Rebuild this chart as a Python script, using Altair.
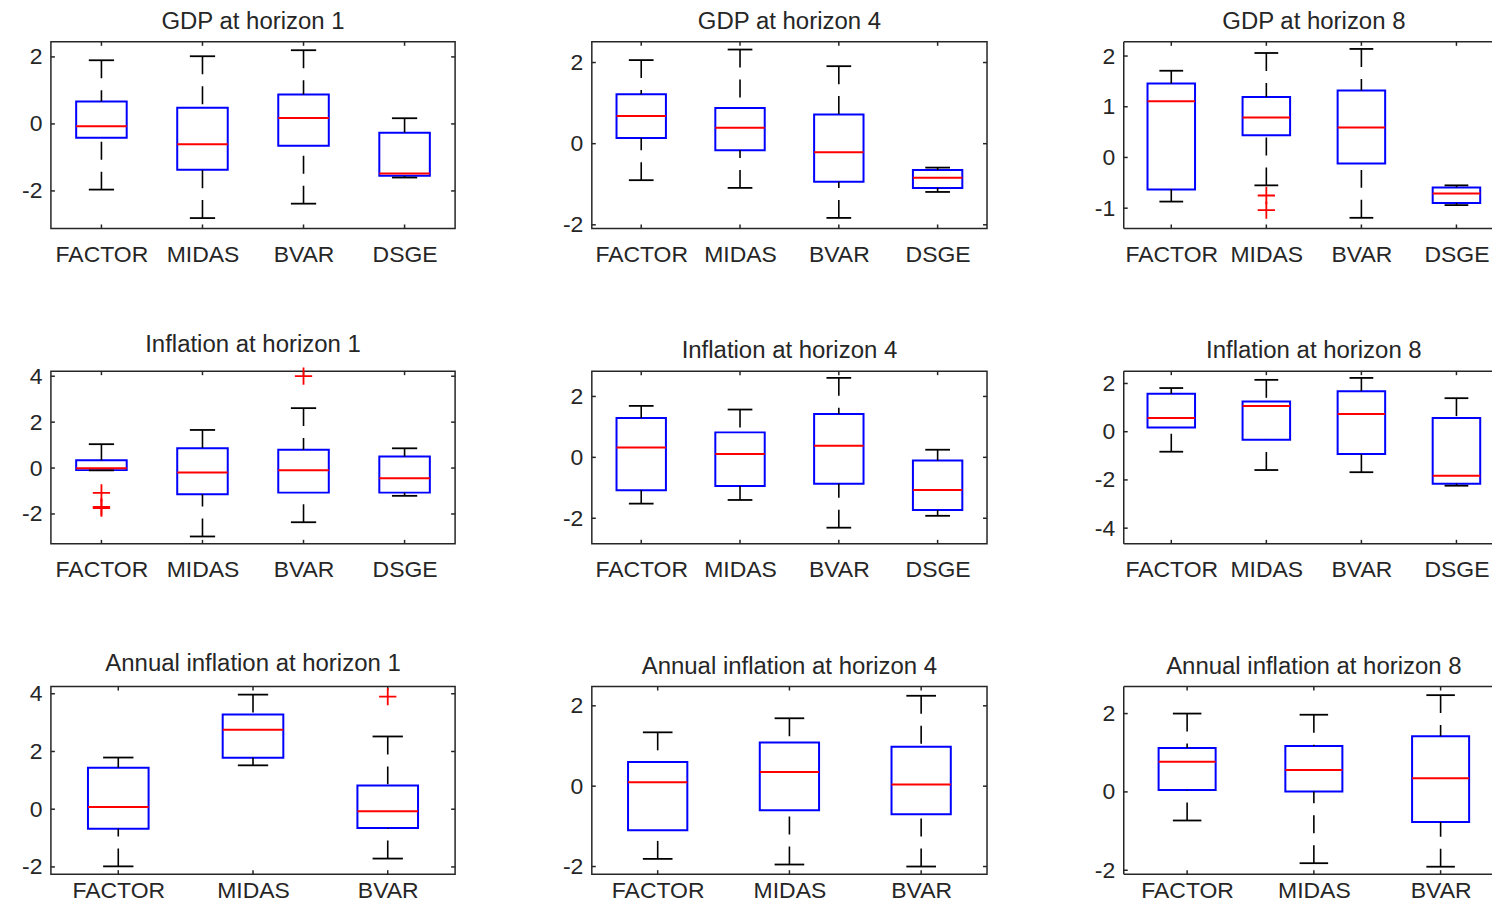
import json
import altair as alt
import pandas as pd

FONT = "Liberation Sans"
TEXT = "#262626"

MODELS_4 = ["FACTOR", "MIDAS", "BVAR", "DSGE"]
MODELS_3 = ["FACTOR", "MIDAS", "BVAR"]

# GDP at horizon 1
gdp_h1_low = [-1.96, -2.81, -2.38, -1.60]
gdp_h1_q1 = [-0.41, -1.37, -0.65, -1.55]
gdp_h1_med = [-0.07, -0.61, 0.18, -1.48]
gdp_h1_q3 = [0.67, 0.48, 0.88, -0.26]
gdp_h1_high = [1.90, 2.02, 2.20, 0.17]
gdp_h1_out_model = []
gdp_h1_out_value = []

# GDP at horizon 4
gdp_h4_low = [-0.90, -1.09, -1.83, -1.19]
gdp_h4_q1 = [0.14, -0.16, -0.94, -1.09]
gdp_h4_med = [0.68, 0.39, -0.21, -0.84]
gdp_h4_q3 = [1.22, 0.88, 0.72, -0.65]
gdp_h4_high = [2.06, 2.32, 1.91, -0.59]
gdp_h4_out_model = []
gdp_h4_out_value = []

# GDP at horizon 8
gdp_h8_low = [-0.87, -0.55, -1.19, -0.94]
gdp_h8_q1 = [-0.63, 0.44, -0.12, -0.90]
gdp_h8_med = [1.11, 0.79, 0.59, -0.71]
gdp_h8_q3 = [1.46, 1.19, 1.32, -0.59]
gdp_h8_high = [1.71, 2.06, 2.14, -0.55]
gdp_h8_out_model = ["MIDAS", "MIDAS"]
gdp_h8_out_value = [-0.75, -1.04]

# Inflation at horizon 1
inf_h1_low = [-0.10, -2.98, -2.36, -1.21]
inf_h1_q1 = [-0.09, -1.14, -1.07, -1.07]
inf_h1_med = [-0.01, -0.19, -0.10, -0.44]
inf_h1_q3 = [0.34, 0.86, 0.80, 0.50]
inf_h1_high = [1.04, 1.66, 2.61, 0.86]
inf_h1_out_model = ["FACTOR", "FACTOR", "FACTOR", "BVAR"]
inf_h1_out_value = [-1.08, -1.69, -1.74, 4.00]

# Inflation at horizon 4
inf_h4_low = [-1.52, -1.40, -2.31, -1.92]
inf_h4_q1 = [-1.08, -0.94, -0.87, -1.73]
inf_h4_med = [0.32, 0.11, 0.38, -1.07]
inf_h4_q3 = [1.29, 0.82, 1.42, -0.10]
inf_h4_high = [1.69, 1.57, 2.61, 0.25]
inf_h4_out_model = []
inf_h4_out_value = []

# Inflation at horizon 8
inf_h8_low = [-0.83, -1.59, -1.68, -2.24]
inf_h8_q1 = [0.17, -0.33, -0.93, -2.16]
inf_h8_med = [0.57, 1.07, 0.73, -1.83]
inf_h8_q3 = [1.57, 1.25, 1.68, 0.57]
inf_h8_high = [1.81, 2.15, 2.23, 1.39]
inf_h8_out_model = []
inf_h8_out_value = []

# Annual inflation at horizon 1
ann_h1_low = [-1.98, 1.52, -1.71]
ann_h1_q1 = [-0.68, 1.78, -0.65]
ann_h1_med = [0.08, 2.75, -0.07]
ann_h1_q3 = [1.44, 3.28, 0.82]
ann_h1_high = [1.79, 3.97, 2.52]
ann_h1_out_model = ["BVAR"]
ann_h1_out_value = [3.90]

# Annual inflation at horizon 4
ann_h4_low = [-1.81, -1.95, -2.00]
ann_h4_q1 = [-1.10, -0.60, -0.70]
ann_h4_med = [0.10, 0.35, 0.04]
ann_h4_q3 = [0.60, 1.09, 0.98]
ann_h4_high = [1.34, 1.69, 2.25]
ann_h4_out_model = []
ann_h4_out_value = []

# Annual inflation at horizon 8
ann_h8_low = [-0.73, -1.82, -1.91]
ann_h8_q1 = [0.05, 0.01, -0.77]
ann_h8_med = [0.77, 0.56, 0.35]
ann_h8_q3 = [1.12, 1.17, 1.42]
ann_h8_high = [2.00, 1.97, 2.47]
ann_h8_out_model = []
ann_h8_out_value = []

# axis limits and ticks
gdp_h1_ylim, gdp_h1_yticks = [-3.12, 2.45], [-2, 0, 2]
gdp_h4_ylim, gdp_h4_yticks = [-2.09, 2.51], [-2, 0, 2]
gdp_h8_ylim, gdp_h8_yticks = [-1.40, 2.28], [-1, 0, 1, 2]
inf_h1_ylim, inf_h1_yticks = [-3.30, 4.22], [-2, 0, 2, 4]
inf_h4_ylim, inf_h4_yticks = [-2.84, 2.83], [-2, 0, 2]
inf_h8_ylim, inf_h8_yticks = [-4.65, 2.51], [-4, -2, 0, 2]
ann_h1_ylim, ann_h1_yticks = [-2.25, 4.25], [-2, 0, 2, 4]
ann_h4_ylim, ann_h4_yticks = [-2.19, 2.48], [-2, 0, 2]
ann_h8_ylim, ann_h8_yticks = [-2.10, 2.69], [-2, 0, 2]

# layout (pixels); the right column is cut by the picture edge as in the original
COL_W = [405, 396, 369]
COL_FULL = [405, 396, 381]
ROW_H = [187, 173, 188]
ROW_LABEL_PAD = [15, 15, 5]
TICK = 4
FS_TITLE = 24
FS_LABEL = 23


def panel(title, models, low, q1, med, q3, high, out_model, out_value,
          ylim, yticks, col, row):
    width, full_w, height = COL_W[col], COL_FULL[col], ROW_H[row]
    cut = width < full_w
    n = len(models)
    pos = list(range(1, n + 1))
    bh = 0.25 if n == 4 else 0.225
    ch = bh / 2
    df = pd.DataFrame({"model": models, "pos": pos, "low": low, "q1": q1,
                       "med": med, "q3": q3, "high": high})
    x_hi = 0.5 + n * width / full_w
    xs = alt.Scale(domain=[0.5, x_hi], nice=False, zero=False)
    ys = alt.Scale(domain=ylim, nice=False, zero=False)
    base = alt.Chart(df).transform_calculate(
        left=f"datum.pos - {bh}", right=f"datum.pos + {bh}",
        cl=f"datum.pos - {ch}", cr=f"datum.pos + {ch}")

    label_expr = json.dumps(models) + "[datum.value - 1]"
    common = dict(title=None, labelOverlap=False, labelFlush=False,
                  domain=False, ticks=False, grid=False,
                  labelFont=FONT, labelFontSize=FS_LABEL, labelColor=TEXT)
    xaxis = alt.Axis(values=pos, labelExpr=label_expr,
                     labelPadding=ROW_LABEL_PAD[row], **common)
    yaxis = alt.Axis(values=yticks, labelPadding=9,
                     labelExpr="datum.value < 0 ? '-' + abs(datum.value) : '' + datum.value",
                     **common)

    def X(f):
        return alt.X(f, scale=xs, axis=xaxis)

    def Y(f):
        return alt.Y(f, scale=ys, axis=yaxis)

    dash = [18, 12]
    box = base.mark_rect(fill="white", fillOpacity=0, stroke="#0000FF",
                         strokeWidth=2).encode(
        x=X("left:Q"), x2="right:Q", y=Y("q1:Q"), y2="q3:Q")
    up_wh = base.mark_rule(color="black", strokeWidth=1.6, strokeDash=dash).encode(
        x=X("pos:Q"), y=Y("high:Q"), y2="q3:Q")
    lo_wh = base.mark_rule(color="black", strokeWidth=1.6, strokeDash=dash).encode(
        x=X("pos:Q"), y=Y("low:Q"), y2="q1:Q")
    up_cap = base.mark_rule(color="black", strokeWidth=1.8).encode(
        x=X("cl:Q"), x2="cr:Q", y=Y("high:Q"))
    lo_cap = base.mark_rule(color="black", strokeWidth=1.8).encode(
        x=X("cl:Q"), x2="cr:Q", y=Y("low:Q"))
    median = base.mark_rule(color="#FF0000", strokeWidth=2).encode(
        x=X("left:Q"), x2="right:Q", y=Y("med:Q"))

    ytdf = pd.DataFrame({"v": yticks})
    xtdf = pd.DataFrame({"p": pos})
    tick_style = dict(color=TEXT, strokeWidth=1.5)
    lt = alt.Chart(ytdf).mark_rule(**tick_style).encode(
        x=alt.value(0), x2=alt.value(TICK), y=Y("v:Q"))
    bt = alt.Chart(xtdf).mark_rule(**tick_style).encode(
        y=alt.value(height), y2=alt.value(height - TICK), x=X("p:Q"))
    tt = alt.Chart(xtdf).mark_rule(**tick_style).encode(
        y=alt.value(0), y2=alt.value(TICK), x=X("p:Q"))

    layers = [box, lt, bt, tt]
    if not cut:
        rt = alt.Chart(ytdf).mark_rule(**tick_style).encode(
            x=alt.value(width - TICK), x2=alt.value(width), y=Y("v:Q"))
        layers.append(rt)
    else:
        one = pd.DataFrame({"k": [0]})
        frame_style = dict(color=TEXT, strokeWidth=1.5)
        layers += [
            alt.Chart(one).mark_rule(**frame_style).encode(
                x=alt.value(0), x2=alt.value(width), y=alt.value(0)),
            alt.Chart(one).mark_rule(**frame_style).encode(
                x=alt.value(0), x2=alt.value(width), y=alt.value(height)),
            alt.Chart(one).mark_rule(**frame_style).encode(
                x=alt.value(0), y=alt.value(0), y2=alt.value(height)),
        ]
    layers += [up_wh, lo_wh, up_cap, lo_cap, median]
    if out_value:
        odf = pd.DataFrame({"model": out_model, "value": out_value})
        odf["pos"] = [models.index(m) + 1 for m in out_model]
        outl = alt.Chart(odf).mark_point(
            shape="M-1,0H1M0,-1V1", size=300, filled=False,
            color="#FF0000", strokeWidth=1.8, opacity=1).encode(
            x=X("pos:Q"), y=Y("value:Q"))
        layers.append(outl)

    props = dict(
        width=width, height=height,
        title=alt.TitleParams(text=title, fontSize=FS_TITLE, font=FONT,
                              fontWeight="normal", color=TEXT, offset=7,
                              anchor="middle", frame="group",
                              dx=(full_w - width) / 2))
    if cut:
        props["view"] = alt.ViewBackground(stroke="transparent")
    return alt.layer(*layers).properties(**props)


p1 = panel("GDP at horizon 1", MODELS_4, gdp_h1_low, gdp_h1_q1, gdp_h1_med, gdp_h1_q3,
           gdp_h1_high, gdp_h1_out_model, gdp_h1_out_value, gdp_h1_ylim, gdp_h1_yticks, 0, 0)
p2 = panel("GDP at horizon 4", MODELS_4, gdp_h4_low, gdp_h4_q1, gdp_h4_med, gdp_h4_q3,
           gdp_h4_high, gdp_h4_out_model, gdp_h4_out_value, gdp_h4_ylim, gdp_h4_yticks, 1, 0)
p3 = panel("GDP at horizon 8", MODELS_4, gdp_h8_low, gdp_h8_q1, gdp_h8_med, gdp_h8_q3,
           gdp_h8_high, gdp_h8_out_model, gdp_h8_out_value, gdp_h8_ylim, gdp_h8_yticks, 2, 0)
p4 = panel("Inflation at horizon 1", MODELS_4, inf_h1_low, inf_h1_q1, inf_h1_med, inf_h1_q3,
           inf_h1_high, inf_h1_out_model, inf_h1_out_value, inf_h1_ylim, inf_h1_yticks, 0, 1)
p5 = panel("Inflation at horizon 4", MODELS_4, inf_h4_low, inf_h4_q1, inf_h4_med, inf_h4_q3,
           inf_h4_high, inf_h4_out_model, inf_h4_out_value, inf_h4_ylim, inf_h4_yticks, 1, 1)
p6 = panel("Inflation at horizon 8", MODELS_4, inf_h8_low, inf_h8_q1, inf_h8_med, inf_h8_q3,
           inf_h8_high, inf_h8_out_model, inf_h8_out_value, inf_h8_ylim, inf_h8_yticks, 2, 1)
p7 = panel("Annual inflation at horizon 1", MODELS_3, ann_h1_low, ann_h1_q1, ann_h1_med,
           ann_h1_q3, ann_h1_high, ann_h1_out_model, ann_h1_out_value, ann_h1_ylim,
           ann_h1_yticks, 0, 2)
p8 = panel("Annual inflation at horizon 4", MODELS_3, ann_h4_low, ann_h4_q1, ann_h4_med,
           ann_h4_q3, ann_h4_high, ann_h4_out_model, ann_h4_out_value, ann_h4_ylim,
           ann_h4_yticks, 1, 2)
p9 = panel("Annual inflation at horizon 8", MODELS_3, ann_h8_low, ann_h8_q1, ann_h8_med,
           ann_h8_q3, ann_h8_high, ann_h8_out_model, ann_h8_out_value, ann_h8_ylim,
           ann_h8_yticks, 2, 2)

chart = alt.concat(p1, p2, p3, p4, p5, p6, p7, p8, p9, columns=3,
                   spacing={"row": 143, "column": 137}, bounds="flush").properties(
    padding={"left": 12, "top": 0, "right": 0, "bottom": 0},
    background="white"
).configure_view(
    stroke=TEXT, strokeWidth=1.5
).configure_axis(
    labelFont=FONT, labelFontSize=FS_LABEL, labelColor=TEXT
)

chart.save("out.html", embed_options={"renderer": "svg", "actions": False})
